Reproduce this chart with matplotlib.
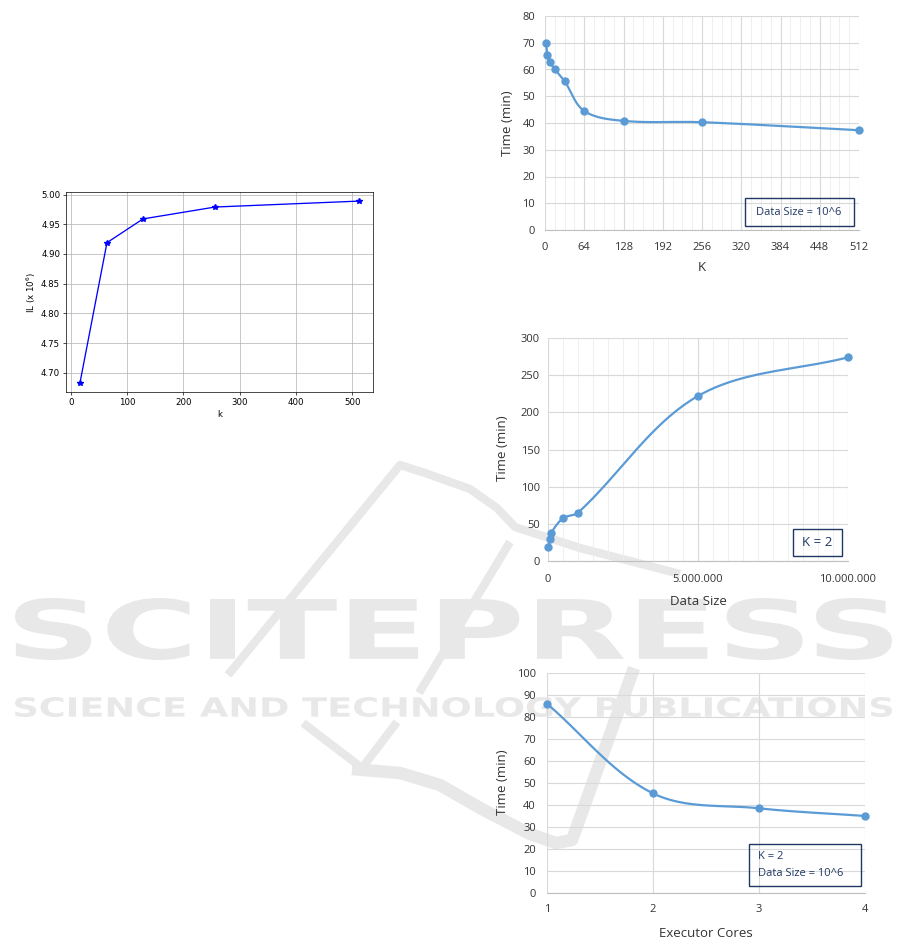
import numpy as np
import matplotlib
matplotlib.use('Agg')
import matplotlib.pyplot as plt
import matplotlib.transforms as mtransforms
from matplotlib.patches import Rectangle, PathPatch
from matplotlib.lines import Line2D
from matplotlib.textpath import TextPath
from matplotlib.font_manager import FontProperties
from matplotlib.ticker import MultipleLocator, FuncFormatter

# information loss vs k
k_il = [16, 64, 128, 256, 512]
il = [4.683, 4.919, 4.959, 4.979, 4.989]

# time vs K, data size 10^6
k_vals = [2, 4, 8, 16, 32, 64, 128, 256, 512]
time_k = [69.9, 65.3, 62.7, 60.1, 55.6, 44.5, 40.8, 40.3, 37.3]

# time vs data size, K = 2
data_size = [10000, 50000, 100000, 500000, 1000000, 5000000, 10000000]
time_size = [19.5, 29, 37.5, 57.5, 65, 222, 274]

# time vs executor cores
cores = [1, 2, 3, 4]
time_cores = [86, 45.3, 38.5, 35]

W, H = 901, 949
BLUE = '#5B9BD5'
NAVY = '#1F3864'
GREY = '#333333'
XL_FONT = 'Open Sans'

fig = plt.figure(figsize=(W / 100, H / 100), dpi=100)


def rect(l, t, r, b):
    return [l / W, 1 - b / H, (r - l) / W, (b - t) / H]


def px_tr():
    return mtransforms.Affine2D().scale(1 / W, 1 / H) + fig.transFigure


# ---- watermark (behind everything) ----
WM = '#E8E8E8'


def stamp(text, l, t, r, b):
    tp = TextPath((0, 0), text, size=100,
                  prop=FontProperties(family='DejaVu Sans', weight='bold'))
    ext = tp.get_extents()
    tr = (mtransforms.Affine2D().translate(-ext.x0, -ext.y0)
          .scale((r - l) / ext.width, (b - t) / ext.height)
          .translate(l, H - b))
    fig.add_artist(PathPatch(tp, transform=tr + px_tr(), color=WM, lw=0, zorder=-5))


stamp('SCITEPRESS', 15, 598, 892, 660)
stamp('SCIENCE AND TECHNOLOGY PUBLICATIONS', 15, 697, 892, 717)


def stroke(pts, lw):
    xs = [p[0] for p in pts]
    ys = [H - p[1] for p in pts]
    fig.add_artist(Line2D(xs, ys, transform=px_tr(), color=WM, lw=lw,
                          solid_capstyle='butt', solid_joinstyle='round', zorder=-5))


stroke([(228, 675), (400, 465), (425, 473), (470, 489), (497, 508),
        (515, 527), (580, 548), (680, 574)], 6)
stroke([(510, 542), (419, 693)], 6)
stroke([(303, 723), (362, 768), (397, 722)], 6)
stroke([(352, 769), (400, 773), (440, 785), (480, 808), (530, 834),
        (556, 843), (572, 840), (634, 668)], 9)


# ---- left: matplotlib style chart ----
ax0 = fig.add_axes(rect(66, 192, 373, 392))
ax0.set_facecolor('none')
ax0.plot(k_il, il, 'b*-', lw=0.95, ms=4)
ax0.grid(True, color='#b0b0b0', lw=0.5)
ax0.tick_params(labelsize=6.2, length=2.2, width=0.5, pad=2)
for s in ax0.spines.values():
    s.set_linewidth(0.5)
ax0.set_xlabel('k', fontsize=6.2, labelpad=2)
ax0.set_ylabel('IL (x 10$^6$)', fontsize=6.2, labelpad=2.5)


# ---- excel style charts ----
def smooth(ax, x, y, n=40):
    bb = ax.get_position()
    x0, x1 = ax.get_xlim()
    y0, y1 = ax.get_ylim()
    sx = bb.width * W / (x1 - x0)
    sy = bb.height * H / (y1 - y0)
    p = np.column_stack([np.asarray(x, float) * sx, np.asarray(y, float) * sy])
    m = len(p)
    u = np.zeros_like(p)
    for i in range(m):
        d = p[min(i + 1, m - 1)] - p[max(i - 1, 0)]
        u[i] = d / np.hypot(*d)
    t = np.linspace(0, 1, n)[:, None]
    out = []
    for i in range(m - 1):
        L = np.hypot(*(p[i + 1] - p[i]))
        c1 = p[i] + u[i] * L / 3
        c2 = p[i + 1] - u[i + 1] * L / 3
        seg = ((1 - t) ** 3 * p[i] + 3 * (1 - t) ** 2 * t * c1
               + 3 * (1 - t) * t ** 2 * c2 + t ** 3 * p[i + 1])
        out.append(seg if i == 0 else seg[1:])
    out = np.vstack(out)
    return out[:, 0] / sx, out[:, 1] / sy


def excel_axes(box, xlim, ylim, xmajor, ymajor, xminor=None, xpad=8, ypad=7):
    ax = fig.add_axes(rect(*box))
    ax.set_facecolor('none')
    ax.set_xlim(xlim)
    ax.set_ylim(ylim)
    ax.xaxis.set_major_locator(MultipleLocator(xmajor))
    ax.yaxis.set_major_locator(MultipleLocator(ymajor))
    if xminor:
        ax.xaxis.set_minor_locator(MultipleLocator(xminor))
        ax.grid(True, which='minor', axis='x', color='#EDEDED', lw=0.6)
    ax.grid(True, which='major', color='#D9D9D9', lw=0.8)
    ax.set_axisbelow(True)
    for name, s in ax.spines.items():
        s.set_visible(name == 'bottom')
    ax.spines['bottom'].set_color('#BFBFBF')
    ax.spines['bottom'].set_linewidth(0.8)
    ax.tick_params(which='both', length=0, labelsize=8, colors=GREY)
    ax.tick_params(axis='x', pad=xpad)
    ax.tick_params(axis='y', pad=ypad)
    for lab in ax.get_xticklabels() + ax.get_yticklabels():
        lab.set_fontfamily(XL_FONT)
    return ax


def series(ax, x, y):
    sx, sy = smooth(ax, x, y)
    ax.plot(sx, sy, color=BLUE, lw=1.6, clip_on=False, zorder=3)
    ax.plot(x, y, 'o', color=BLUE, ms=5, clip_on=False, zorder=4)


def labels(ax, xl, xy, yl, yx, yy=0.5):
    ax.text(0.5, xy, xl, transform=ax.transAxes, ha='center', va='center',
            fontsize=9.5, color=GREY, family=XL_FONT)
    ax.text(yx, yy, yl, transform=ax.transAxes, ha='center', va='center',
            rotation=90, fontsize=9.5, color=GREY, family=XL_FONT)


def note(ax, x0, y0, x1, y1, lines, size=8, align='center', tx=None):
    ax.add_patch(Rectangle((x0, y0), x1 - x0, y1 - y0, transform=ax.transAxes,
                           fill=False, ec=NAVY, lw=1, zorder=5, clip_on=False))
    if align == 'center':
        ax.text((x0 + x1) / 2, (y0 + y1) / 2, lines[0], transform=ax.transAxes,
                ha='center', va='center', fontsize=size, color=NAVY,
                family=XL_FONT, zorder=6)
    else:
        n = len(lines)
        for i, s in enumerate(lines):
            yc = y1 - (y1 - y0) * (i + 0.7) / (n + 0.4)
            ax.text(tx, yc, s, transform=ax.transAxes, ha='left', va='center',
                    fontsize=size, color=NAVY, family=XL_FONT, zorder=6)


# top: time vs K
ax1 = excel_axes((545, 16, 859, 230), (0, 512), (0, 80), 64, 10, xminor=16, xpad=9, ypad=7)
series(ax1, k_vals, time_k)
labels(ax1, 'K', -0.177, 'Time (min)', -0.118)
note(ax1, 0.636, 0.019, 0.983, 0.149, ['Data Size = 10^6'])

# middle: time vs data size
ax2 = excel_axes((548, 338, 848, 561), (0, 10000000), (0, 300), 5000000, 50,
                 xminor=500000, xpad=9, ypad=6)
ax2.xaxis.set_major_formatter(FuncFormatter(lambda v, p: f'{int(v):,}'.replace(',', '.')))
for lab in ax2.get_xticklabels():
    lab.set_fontfamily(XL_FONT)
series(ax2, data_size, time_size)
labels(ax2, 'Data Size', -0.183, 'Time (min)', -0.151, 0.507)
note(ax2, 0.816, 0.022, 0.979, 0.144, ['K = 2'], size=9.5)

# bottom: time vs executor cores
ax3 = excel_axes((547, 673, 865, 893), (1, 4), (0, 100), 1, 10, xpad=8, ypad=8)
series(ax3, cores, time_cores)
labels(ax3, 'Executor Cores', -0.182, 'Time (min)', -0.141, 0.505)
note(ax3, 0.636, 0.031, 0.987, 0.221, ['K = 2', 'Data Size = 10^6'],
     align='left', tx=0.665)

fig.savefig('out.png', dpi=100)
